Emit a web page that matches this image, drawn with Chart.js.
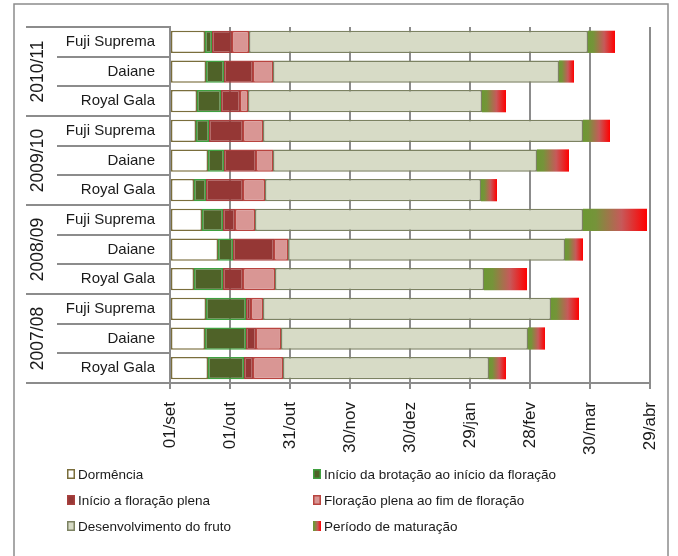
<!DOCTYPE html>
<html>
<head>
<meta charset="utf-8">
<script src="https://cdn.jsdelivr.net/npm/chart.js@4.4.0/dist/chart.umd.min.js"></script>
<style>
  html, body { margin: 0; padding: 0; background: #fff; }
  canvas { display: block; }
</style>
</head>
<body>
<canvas id="c" width="678" height="556"></canvas>
<script>
// Seasons and cultivars (rows are listed top to bottom)
const seasons = ['2010/11', '2009/10', '2008/09', '2007/08'];
const cultivars = ['Fuji Suprema', 'Daiane', 'Royal Gala'];
const rowLabels = [
  'Fuji Suprema', 'Daiane', 'Royal Gala',
  'Fuji Suprema', 'Daiane', 'Royal Gala',
  'Fuji Suprema', 'Daiane', 'Royal Gala',
  'Fuji Suprema', 'Daiane', 'Royal Gala'
];

// Date axis labels, one every 30 days starting on 01/set
const tickLabels = ['01/set', '01/out', '31/out', '30/nov', '30/dez', '29/jan', '28/fev', '30/mar', '29/abr'];

// Day (counted from 01/set) on which each phenological phase ends
const endDormencia      = [17.5, 18,   13.5, 13,   19,   12,   16,   24,   12,   18,   17.5, 19];
const endBrotacao       = [21,   27,   25.5, 19.5, 27,   18,   26.5, 31.5, 26.5, 38,   38,   37];
const endInicioFloracao = [31,   41.5, 35,   36.5, 43,   36.5, 32.5, 52,   36.5, 40.5, 43,   41.5];
const endFloracao       = [39.5, 51.5, 39,   46.5, 51.5, 47.5, 42.5, 59,   52.5, 46.5, 55.5, 56.5];
const endFruto          = [209,  194.5, 156, 206.5, 183.5, 155.5, 206.5, 197.5, 157, 190.5, 179, 159.5];
const endMaturacao      = [222.5, 202, 168,  220,  199.5, 163.5, 238.5, 206.5, 178.5, 204.5, 187.5, 168];

const phaseNames = [
  'Dormência',
  'Início da brotação ao início da floração',
  'Início a floração plena',
  'Floração plena ao fim de floração',
  'Desenvolvimento do fruto',
  'Período de maturação'
];
const phaseEnds = [endDormencia, endBrotacao, endInicioFloracao, endFloracao, endFruto, endMaturacao];

const FONT = "'Liberation Sans', Arial, sans-serif";
const TEXT = '#1a1a1a';
const LINE = '#8c8c8c';

// Fill / border per phase
const phaseStyles = [
  { fill: '#ffffff', border: '#7a6e3c' },
  { fill: '#4f6228', border: '#3fa03f' },
  { fill: '#953735', border: '#a8403e' },
  { fill: '#d99694', border: '#b8443f' },
  { fill: '#d7dbc6', border: '#7c8262' },
  { fill: null,      border: null }
];

function maturationGradient(ctx, x0, x1) {
  if (!isFinite(x0) || !isFinite(x1) || x0 === x1) return '#c0504d';
  const g = ctx.createLinearGradient(x0, 0, x1, 0);
  g.addColorStop(0, '#6c9833');
  g.addColorStop(0.2, '#76933a');
  g.addColorStop(0.6, '#c65a5a');
  g.addColorStop(1, '#ff0000');
  return g;
}

const datasets = phaseEnds.map((ends, k) => {
  const starts = k === 0 ? ends.map(() => 0) : phaseEnds[k - 1];
  const st = phaseStyles[k];
  const isGradient = st.fill === null;
  return {
    label: phaseNames[k],
    data: ends.map((e, i) => [starts[i], e]),
    grouped: false,
    barPercentage: 0.75,
    categoryPercentage: 1,
    borderSkipped: false,
    borderWidth: isGradient ? 0 : 1.5,
    borderColor: st.border || 'rgba(0,0,0,0)',
    backgroundColor: isGradient
      ? (c) => {
          const xs = c.chart.scales.x;
          if (c.type !== 'data' || !xs || !c.raw) return '#c0504d';
          return maturationGradient(c.chart.ctx, xs.getPixelForValue(c.raw[0]), xs.getPixelForValue(c.raw[1]));
        }
      : st.fill
  };
});

// Row table on the left: separators and rotated season labels
const rowTable = {
  id: 'rowTable',
  afterDraw(chart) {
    const { ctx, chartArea } = chart;
    const n = rowLabels.length;
    const rowH = (chartArea.bottom - chartArea.top) / n;
    const tableLeft = 26, innerLeft = 57, right = chartArea.left;
    ctx.save();
    ctx.strokeStyle = LINE;
    ctx.lineWidth = 2;
    for (let i = 0; i <= n; i++) {
      const y = Math.round(chartArea.top + i * rowH);
      const x0 = (i % cultivars.length === 0) ? tableLeft : innerLeft;
      ctx.beginPath();
      ctx.moveTo(x0, y);
      ctx.lineTo(right, y);
      ctx.stroke();
    }
    ctx.fillStyle = TEXT;
    ctx.font = "17.5px " + FONT;
    ctx.textAlign = 'center';
    ctx.textBaseline = 'middle';
    seasons.forEach((s, g) => {
      const yc = chartArea.top + (g * cultivars.length + cultivars.length / 2) * rowH;
      ctx.save();
      ctx.translate(38, yc);
      ctx.rotate(-Math.PI / 2);
      ctx.fillText(s, 0, 0);
      ctx.restore();
    });
    ctx.restore();
  }
};

// Two-column legend under the axis
const legendGrid = {
  id: 'legendGrid',
  afterDraw(chart) {
    const { ctx } = chart;
    const colX = [67, 313];
    const rowY = [475, 501, 527];
    ctx.save();
    ctx.font = "13.5px " + FONT;
    ctx.textBaseline = 'middle';
    ctx.textAlign = 'left';
    chart.data.datasets.forEach((ds, k) => {
      const x = colX[k % 2];
      const y = rowY[Math.floor(k / 2)];
      const st = phaseStyles[k];
      const bw = 8, bh = 10;
      const bx = x, by = y - bh / 2 - 1;
      if (st.fill === null) {
        ctx.fillStyle = maturationGradient(ctx, bx, bx + bw);
        ctx.fillRect(bx, by, bw, bh);
      } else {
        ctx.fillStyle = st.fill;
        ctx.fillRect(bx, by, bw, bh);
        ctx.strokeStyle = st.border;
        ctx.lineWidth = 1.5;
        ctx.strokeRect(bx + 0.75, by + 0.75, bw - 1.5, bh - 1.5);
      }
      ctx.fillStyle = TEXT;
      ctx.fillText(ds.label, x + 11, y);
    });
    ctx.restore();
  }
};

// Outer frame
const frame = {
  id: 'frame',
  beforeDraw(chart) {
    const { ctx } = chart;
    ctx.save();
    ctx.fillStyle = '#fff';
    ctx.fillRect(0, 0, chart.width, chart.height);
    ctx.strokeStyle = LINE;
    ctx.lineWidth = 1.5;
    ctx.strokeRect(14, 4, 654, 600);
    ctx.restore();
  }
};

const dayStep = 30;

new Chart(document.getElementById('c'), {
  type: 'bar',
  data: { labels: rowLabels, datasets },
  options: {
    indexAxis: 'y',
    responsive: false,
    animation: false,
    layout: { padding: { left: 26, right: 28, top: 27, bottom: 93 } },
    plugins: { legend: { display: false }, tooltip: { enabled: false } },
    scales: {
      x: {
        type: 'linear',
        min: 0,
        max: dayStep * (tickLabels.length - 1),
        afterFit: (s) => { s.height = 80; s.paddingLeft = 0; s.paddingRight = 0; },
        ticks: {
          stepSize: dayStep,
          autoSkip: false,
          minRotation: 90,
          maxRotation: 90,
          padding: 13,
          color: TEXT,
          font: { family: FONT, size: 17 },
          callback: (v) => tickLabels[Math.round(v / dayStep)]
        },
        grid: { color: LINE, lineWidth: 2, tickLength: 6, drawTicks: true },
        border: { display: true, color: LINE, width: 2 }
      },
      y: {
        type: 'category',
        afterFit: (s) => { s.width = 144; },
        ticks: {
          padding: 15,
          color: TEXT,
          font: { family: FONT, size: 15 }
        },
        grid: { display: false, drawTicks: false, tickLength: 0 },
        border: { display: true, color: LINE, width: 2 }
      }
    }
  },
  plugins: [frame, rowTable, legendGrid]
});
</script>
</body>
</html>
